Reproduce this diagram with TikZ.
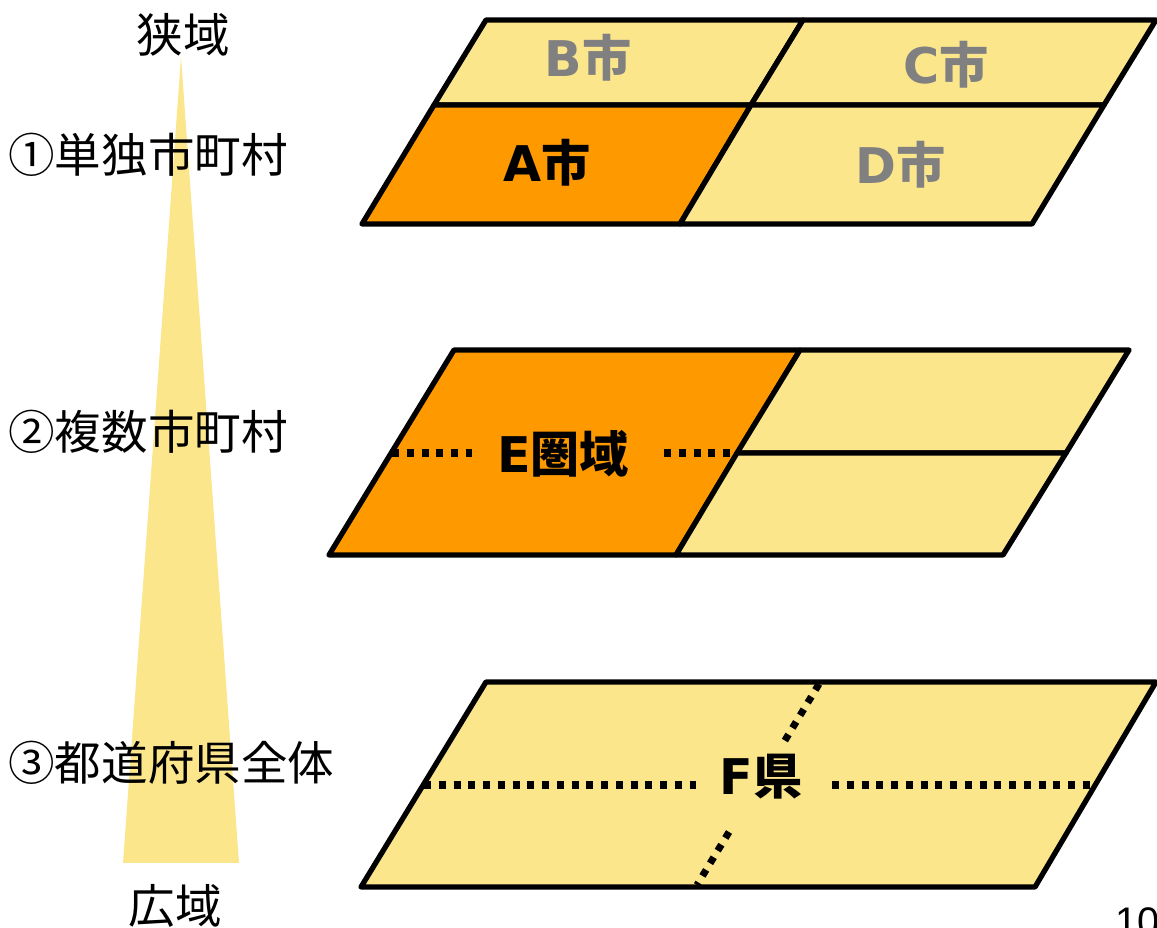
\documentclass[tikz,border=0pt]{standalone}
\usepackage{fontspec}
\usepackage{xcolor}
\usepackage{tikz}
\usetikzlibrary{calc}
\newfontfamily\jpfont{Noto Sans CJK JP}
\newfontfamily\latfont{DejaVu Sans}
\newfontfamily\numfont{Liberation Sans}
\definecolor{cellyellow}{RGB}{252,230,140}
\definecolor{cellorange}{RGB}{255,153,0}
\definecolor{citygray}{RGB}{128,128,128}
\newcommand{\lat}[1]{{\latfont\bfseries #1}}
\tikzset{
	cell/.style={draw=black,line width=3pt,line join=round,fill=cellyellow},
	cellA/.style={cell,fill=cellorange},
	dotline/.style={line width=4pt,dash pattern=on 4pt off 4.4pt},
	city/.style={font=\jpfont\bfseries\fontsize{28}{32}\selectfont,inner sep=0pt},
	side/.style={font=\jpfont\fontsize{26.5}{30}\selectfont,inner sep=0pt}
}

\begin{document}
\begin{tikzpicture}[x=0.02cm,y=-0.02cm]
	\useasboundingbox (0,0) rectangle (1157,928);
	% scale triangle
	\fill[cellyellow] (181,57) -- (239,863) -- (123,863) -- cycle;
	\node[side] (narrow) at (183,35) {狭域};
	\node[side] (wide) at (175,906) {広域};
	\node[side,anchor=west] (lvl1) at (8,155) {①単独市町村};
	\node[side,anchor=west] (lvl2) at (8,432) {②複数市町村};
	\node[side,anchor=west] (lvl3) at (8,763) {③都道府県全体};
	% level 1
	\draw[cell] (434,105) -- (751,105) -- (803,20) -- (486,20) -- cycle;
	\draw[cell] (751,105) -- (1104,105) -- (1156,20) -- (803,20) -- cycle;
	\draw[cellA] (362,224) -- (680,224) -- (751,105) -- (434,105) -- cycle;
	\draw[cell] (680,224) -- (1032,224) -- (1104,105) -- (751,105) -- cycle;
	\node[city,text=citygray] (cityB) at (588,58) {\lat{B}市};
	\node[city,text=citygray] (cityC) at (946,65) {\lat{C}市};
	\node[city] (cityA) at (547,163) {\lat{A}市};
	\node[city,text=citygray] (cityD) at (901,165) {\lat{D}市};
	% level 2
	\draw[cellA] (329,555) -- (676,555) -- (800,350) -- (454,350) -- cycle;
	\draw[cell] (737,453) -- (1066,453) -- (1129,350) -- (800,350) -- cycle;
	\draw[cell] (676,555) -- (1003,555) -- (1066,453) -- (737,453) -- cycle;
	\coordinate (eL) at (392,453);
	\coordinate (eL2) at (472,453);
	\coordinate (eR) at (664,453);
	\coordinate (eR2) at (737,453);
	\draw[dotline] (eL) -- (eL2) (eR) -- (eR2);
	\node[city] (areaE) at (563,454) {\lat{E}圏域};
	% level 3
	\draw[cell] (361,887) -- (1035,887) -- (1156,682) -- (486,682) -- cycle;
	\coordinate (fL) at (424,785);
	\coordinate (fL2) at (696,785);
	\coordinate (fR) at (832,785);
	\coordinate (fR2) at (1093,785);
	\coordinate (fT) at (819,684);
	\coordinate (fT2) at (784,742);
	\coordinate (fB) at (729,832);
	\coordinate (fB2) at (697,885);
	\draw[dotline] (fL) -- (fL2) (fR) -- (fR2);
	\draw[dotline] (fT) -- (fT2) (fB) -- (fB2);
	\node[city] (prefF) at (761,777) {\lat{F}県};
	% page number
	\node[font=\numfont\fontsize{22.7}{26}\selectfont,anchor=base west,inner sep=0pt] (page) at (1115,936) {10};
\end{tikzpicture}
\end{document}
